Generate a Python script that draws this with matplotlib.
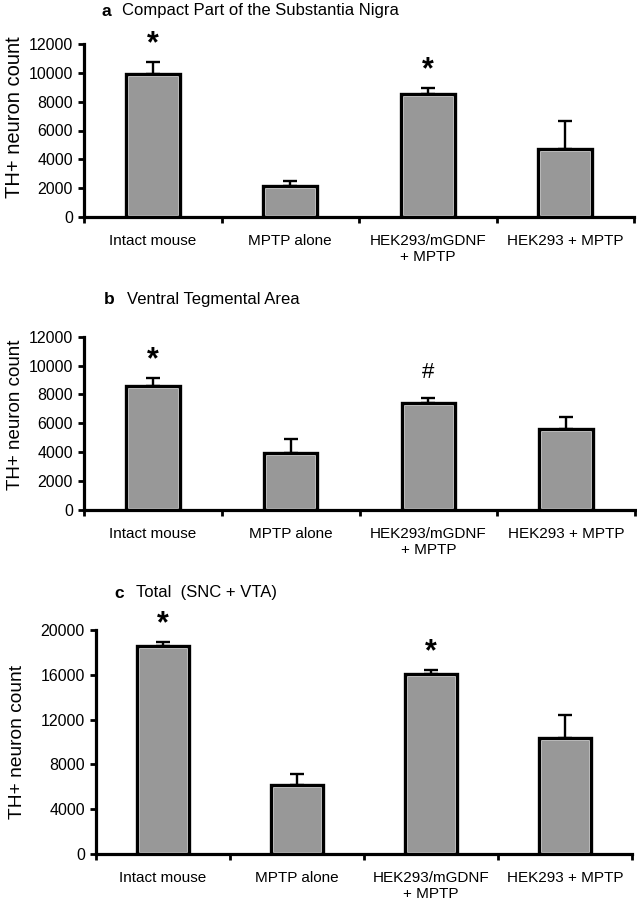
import matplotlib
matplotlib.use("Agg")
import matplotlib.pyplot as plt
import numpy as np

plt.rcParams['font.family'] = ['Liberation Sans', 'DejaVu Sans']

categories = ["Intact mouse", "MPTP alone", "HEK293/mGDNF\n+ MPTP", "HEK293 + MPTP"]

snc_mean = [9900, 2170, 8510, 4720]
snc_sem = [850, 330, 415, 1920]
snc_marks = ["*", "", "*", ""]

vta_mean = [8610, 3970, 7430, 5630]
vta_sem = [510, 970, 350, 810]
vta_marks = ["*", "", "#", ""]

total_mean = [18570, 6160, 16040, 10360]
total_sem = [390, 980, 390, 2020]
total_marks = ["*", "", "*", ""]

snc_ticks = [0, 2000, 4000, 6000, 8000, 10000, 12000]
vta_ticks = [0, 2000, 4000, 6000, 8000, 10000, 12000]
total_ticks = [0, 4000, 8000, 12000, 16000, 20000]

W, H = 637, 902
fig = plt.figure(figsize=(W / 100, H / 100), dpi=100)

BAR_GRAY = "#989898"
LIGHT = "#dedede"


def panel(rect_px, means, sems, marks, ticks, ylabel_x, ylabel_y, ylabel_size):
    l, r, b, t = rect_px
    ax = fig.add_axes([l / W, 1 - b / H, (r - l) / W, (b - t) / H])
    n = len(categories)
    x = np.arange(n) + 0.5
    width = 0.39
    bars = ax.bar(x, means, width, color=BAR_GRAY, edgecolor=LIGHT,
                  linewidth=3.6, zorder=2)
    for bb in bars:
        bb.set_clip_path(bb)
    ax.bar(x, means, width, facecolor="none", edgecolor="black",
           linewidth=2.4, zorder=3)
    ax.errorbar(x, means, yerr=[np.zeros(n), sems], fmt="none",
                ecolor="black", elinewidth=1.7, capsize=5, capthick=1.7,
                zorder=4)
    for xi, m, s, mk in zip(x, means, sems, marks):
        if mk == "*":
            ax.annotate("*", (xi, m + s), xytext=(0, 7), textcoords="offset points",
                        ha="center", va="baseline", fontsize=22, fontweight="bold",
                        annotation_clip=False)
        elif mk:
            ax.annotate(mk, (xi, m + s), xytext=(0, 14), textcoords="offset points",
                        ha="center", va="baseline", fontsize=16,
                        annotation_clip=False)
    ax.set_xlim(0, n)
    ax.set_ylim(ticks[0], ticks[-1])
    ax.set_yticks(ticks)
    ax.set_yticklabels([str(v) for v in ticks], fontsize=11.5)
    ax.set_xticks(x)
    ax.set_xticklabels(categories, fontsize=11)
    ax.set_xticks(np.arange(n + 1), minor=True)
    ax.tick_params(axis="x", which="major", length=0, pad=12)
    ax.tick_params(axis="x", which="minor", length=4, width=2, direction="out")
    ax.tick_params(axis="y", length=4, width=2, direction="out", pad=4)
    for sp in ["top", "right"]:
        ax.spines[sp].set_visible(False)
    for sp in ["left", "bottom"]:
        ax.spines[sp].set_linewidth(2.3)
        ax.spines[sp].set_zorder(5)
    ax.set_ylabel("TH+ neuron count", fontsize=ylabel_size, va="bottom")
    ax.yaxis.set_label_coords((ylabel_x - l) / (r - l), (b - ylabel_y) / (b - t))
    return ax


panel((84, 634, 217, 44), snc_mean, snc_sem, snc_marks, snc_ticks, 24, 117, 14.5)
panel((84, 635, 510, 336.7), vta_mean, vta_sem, vta_marks, vta_ticks, 24, 415, 13.5)
panel((96, 632, 854, 630), total_mean, total_sem, total_marks, total_ticks, 26, 742, 13.8)


def title(letter, text, lx, tx, y):
    fig.text(lx / W, 1 - y / H, letter, fontsize=12.5, fontweight="bold",
             va="center", ha="left")
    fig.text(tx / W, 1 - y / H, text, fontsize=12, va="center", ha="left")


title("a", "Compact Part of the Substantia Nigra", 101, 122, 11)
title("b", "Ventral Tegmental Area", 104, 127, 300)
title("c", "Total  (SNC + VTA)", 114, 136, 593)

fig.savefig("out.png", dpi=100)
